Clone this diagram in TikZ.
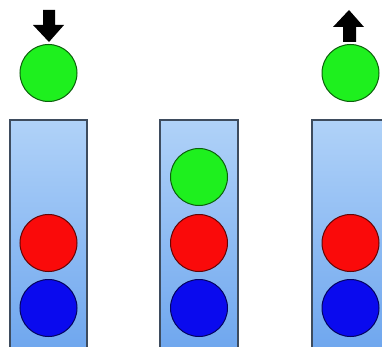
\documentclass[tikz,border=0pt]{standalone}
\usetikzlibrary{shadings}
\definecolor{tubetop}{HTML}{B0D2F8}
\definecolor{tubebot}{HTML}{6EA6EE}
\definecolor{tubeline}{HTML}{3E4C5E}
\definecolor{ballgreen}{HTML}{1EF01E}
\definecolor{ballred}{HTML}{FA0A0A}
\definecolor{ballblue}{HTML}{0A0AEE}
\tikzset{
  tube/.style={draw=tubeline, line width=1.2pt, top color=tubetop, bottom color=tubebot},
  ball/.style={circle, draw=#1!40!black, line width=1pt, minimum size=57pt, inner sep=0pt},
  bigarrow/.style={fill=black, draw=none}
}
\begin{document}
\begin{tikzpicture}[x=1pt,y=-1pt]
  \useasboundingbox (0,0) rectangle (382,347);
  \begin{scope}
    \clip (0,0) rectangle (382,347);
    % three stack tubes
    \draw[tube] (10,120) rectangle (87,352);
    \draw[tube] (160,120) rectangle (238,352);
    \draw[tube] (312,120) rectangle (390,352);
  \end{scope}
  % left: push
  \node[ball=ballgreen, fill=ballgreen] (pushball) at (48.5,73) {};
  \node[ball=ballred, fill=ballred] (redA) at (48.5,243) {};
  \node[ball=ballblue, fill=ballblue] (blueA) at (48.5,308) {};
  \fill[bigarrow] (43,10) -- (55,10) -- (55,25) -- (64,25) -- (49,42) -- (33,25) -- (43,25) -- cycle;
  % middle: full stack
  \node[ball=ballgreen, fill=ballgreen] (greenB) at (199,177) {};
  \node[ball=ballred, fill=ballred] (redB) at (199,243) {};
  \node[ball=ballblue, fill=ballblue] (blueB) at (199,308) {};
  % right: pop
  \node[ball=ballgreen, fill=ballgreen] (popball) at (350.5,73) {};
  \node[ball=ballred, fill=ballred] (redC) at (350.5,243) {};
  \node[ball=ballblue, fill=ballblue] (blueC) at (350.5,308) {};
  \fill[bigarrow] (343,42) -- (356,42) -- (356,27) -- (364,27) -- (349,10) -- (333,27) -- (343,27) -- cycle;
\end{tikzpicture}
\end{document}
